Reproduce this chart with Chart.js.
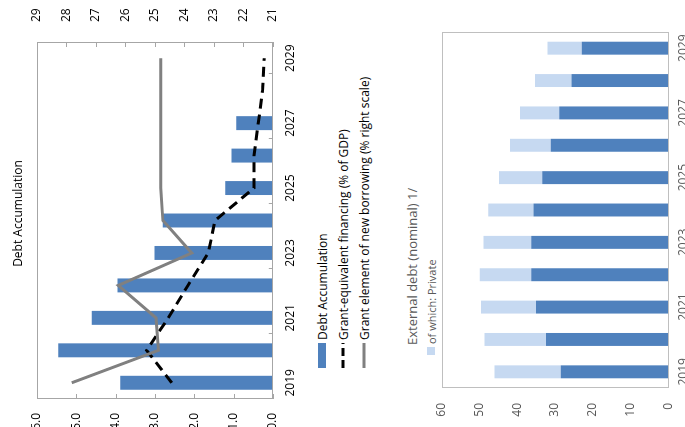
<!DOCTYPE html>
<html>
<head>
<meta charset="utf-8">
<script src="https://cdn.jsdelivr.net/npm/chart.js@4.4.0/dist/chart.umd.min.js"></script>
<style>
html, body { margin:0; padding:0; overflow:hidden; background:#fff; width:685px; height:427px; }
/* the figure is drawn upright, then turned a quarter turn to match the page */
#page { position:absolute; left:0; top:0; width:427px; height:685px; transform-origin:0 0;
        transform:translateY(427px) rotate(-90deg); font-family:'Open Sans', sans-serif; }
.box { position:absolute; left:0; width:427px; }
.row { position:absolute; display:flex; align-items:center; height:16px; white-space:nowrap; }
</style>
</head>
<body>
<div id="page">
  <div class="box" style="top:0;height:300px"><canvas id="debtChart"></canvas></div>

  <div class="row" style="left:59px;top:314px;font-size:12px;color:#000">
    <span style="display:inline-block;width:25px;height:8px;background:#4F81BD;margin-right:3px"></span>Debt Accumulation
  </div>
  <div class="row" style="left:59px;top:335px;font-size:12px;color:#000">
    <svg width="25" height="8" style="margin-right:3px"><line x1="0" y1="4" x2="25" y2="4" stroke="#000" stroke-width="3" stroke-dasharray="8 4"/></svg>Grant-equivalent financing (% of GDP)
  </div>
  <div class="row" style="left:59px;top:356px;font-size:12px;color:#000">
    <svg width="25" height="8" style="margin-right:3px"><line x1="0" y1="4" x2="25" y2="4" stroke="#808080" stroke-width="3"/></svg>Grant element of new borrowing (% right scale)
  </div>

  <div class="row" style="left:82px;top:403px;height:18px;font-size:13px;color:#595959">External debt (nominal) 1/</div>
  <div class="row" style="left:72px;top:423px;font-size:11px;color:#595959">
    <span style="display:inline-block;width:8px;height:8px;background:#C6D9F1;margin-right:3px"></span>of which: Private
  </div>

  <div class="box" style="top:395px;height:300px"><canvas id="extChart"></canvas></div>
</div>

<script>
var years = ['2019', '2020', '2021', '2022', '2023', '2024', '2025', '2026', '2027', '2028', '2029'];

// upper panel
var debtAccumulation = [3.88, 5.46, 4.61, 3.95, 3.01, 2.80, 1.21, 1.05, 0.93, 0.02, 0.02];
var grantFinancing = [2.57, 3.21, 2.66, 2.16, 1.64, 1.47, 0.48, 0.48, 0.37, 0.26, 0.22];
var grantElement = [27.82, 24.88, 24.96, 26.24, 23.75, 24.73, 24.8, 24.8, 24.8, 24.8, 24.8];

// lower panel
var publicDebt = [28.5, 32.4, 35.0, 36.3, 36.3, 35.7, 33.4, 31.1, 28.9, 25.6, 22.9];
var privateDebt = [17.5, 16.3, 14.6, 13.6, 12.6, 12.0, 11.4, 10.8, 10.4, 9.7, 9.1];

Chart.defaults.font.family = "'Open Sans', sans-serif";
Chart.defaults.font.size = 12;
Chart.defaults.animation = false;

// plot frame plus the small inward tick marks
var framePlugin = {
    id: 'frame',
    afterDraw: function (chart, args, opts) {
        var a = chart.chartArea, ctx = chart.ctx;
        ctx.save();
        ctx.strokeStyle = opts.color;
        ctx.lineWidth = 1;
        ctx.strokeRect(Math.round(a.left) + 0.5, Math.round(a.top) + 0.5,
            Math.round(a.right - a.left) - 1, Math.round(a.bottom - a.top) - 1);
        if (opts.ticks) {
            var x = chart.scales.x, y = chart.scales.y, y2 = chart.scales.y2;
            ctx.beginPath();
            y.ticks.forEach(function (t) {
                var p = Math.round(y.getPixelForValue(t.value)) + 0.5;
                ctx.moveTo(a.left, p); ctx.lineTo(a.left + 5, p);
            });
            y2.ticks.forEach(function (t) {
                var p = Math.round(y2.getPixelForValue(t.value)) + 0.5;
                ctx.moveTo(a.right, p); ctx.lineTo(a.right - 5, p);
            });
            for (var i = 1; i < years.length - 1; i += 2) {
                var p = Math.round((x.getPixelForValue(i) + x.getPixelForValue(i + 1)) / 2) + 0.5;
                ctx.moveTo(p, a.bottom); ctx.lineTo(p, a.bottom - 4);
            }
            ctx.stroke();
        }
        ctx.restore();
    }
};

var everyOther = function (v, i) { return i % 2 === 0 ? years[i] : ''; };

new Chart(document.getElementById('debtChart'), {
    type: 'bar',
    plugins: [framePlugin],
    data: {
        labels: years,
        datasets: [
            {
                type: 'line',
                label: 'Grant element of new borrowing (% right scale)',
                data: grantElement,
                yAxisID: 'y2',
                borderColor: '#808080',
                borderWidth: 3,
                pointRadius: 0,
                tension: 0,
                order: 0
            },
            {
                type: 'line',
                label: 'Grant-equivalent financing (% of GDP)',
                data: grantFinancing,
                yAxisID: 'y',
                borderColor: '#000',
                borderWidth: 3,
                borderDash: [10, 6],
                pointRadius: 0,
                tension: 0,
                order: 1
            },
            {
                label: 'Debt Accumulation',
                data: debtAccumulation,
                yAxisID: 'y',
                backgroundColor: '#4F81BD',
                barPercentage: 0.43,
                categoryPercentage: 1,
                order: 2
            }
        ]
    },
    options: {
        responsive: true,
        maintainAspectRatio: false,
        devicePixelRatio: 1,
        layout: { padding: 0 },
        plugins: {
            legend: { display: false },
            tooltip: { enabled: false },
            title: {
                display: true,
                text: 'Debt Accumulation',
                color: '#000',
                font: { size: 12, weight: 'normal' },
                padding: { top: 11, bottom: 11.6 }
            },
            frame: { color: '#A6A6A6', ticks: true }
        },
        scales: {
            x: {
                grid: { display: false, drawTicks: false },
                border: { display: false },
                ticks: { color: '#000', padding: 11, autoSkip: false, maxRotation: 0, callback: everyOther },
                afterFit: function (s) { s.height = 27; }
            },
            y: {
                position: 'left',
                min: 0, max: 6,
                grid: { display: false, drawTicks: false },
                border: { display: false },
                ticks: { stepSize: 1, color: '#000', padding: 14, callback: function (v) { return v.toFixed(1); } },
                afterFit: function (s) { s.width = 28; }
            },
            y2: {
                position: 'right',
                min: 21, max: 29,
                grid: { display: false, drawTicks: false },
                border: { display: false },
                ticks: { stepSize: 1, color: '#000', padding: 20 },
                afterFit: function (s) { s.width = 42; }
            }
        }
    }
});

new Chart(document.getElementById('extChart'), {
    type: 'bar',
    plugins: [framePlugin],
    data: {
        labels: years,
        datasets: [
            {
                label: 'External debt (nominal) 1/',
                data: publicDebt,
                backgroundColor: '#4F81BD',
                barPercentage: 0.4,
                categoryPercentage: 1
            },
            {
                label: 'of which: Private',
                data: privateDebt,
                backgroundColor: '#C6D9F1',
                barPercentage: 0.4,
                categoryPercentage: 1
            }
        ]
    },
    options: {
        responsive: true,
        maintainAspectRatio: false,
        devicePixelRatio: 1,
        layout: { padding: { top: 46.7, right: 32, left: 0, bottom: 0 } },
        plugins: {
            legend: { display: false },
            tooltip: { enabled: false },
            frame: { color: '#BFBFBF', ticks: false }
        },
        scales: {
            x: {
                stacked: true,
                grid: { display: false, drawTicks: false },
                border: { display: false },
                ticks: { color: '#595959', padding: 8, autoSkip: false, maxRotation: 0, callback: everyOther },
                afterFit: function (s) { s.height = 26.7; }
            },
            y: {
                stacked: true,
                min: 0, max: 60,
                grid: { display: false, drawTicks: false },
                border: { display: false },
                ticks: { stepSize: 10, color: '#595959', padding: 15 },
                afterFit: function (s) { s.width = 39; }
            }
        }
    }
});
</script>
</body>
</html>
